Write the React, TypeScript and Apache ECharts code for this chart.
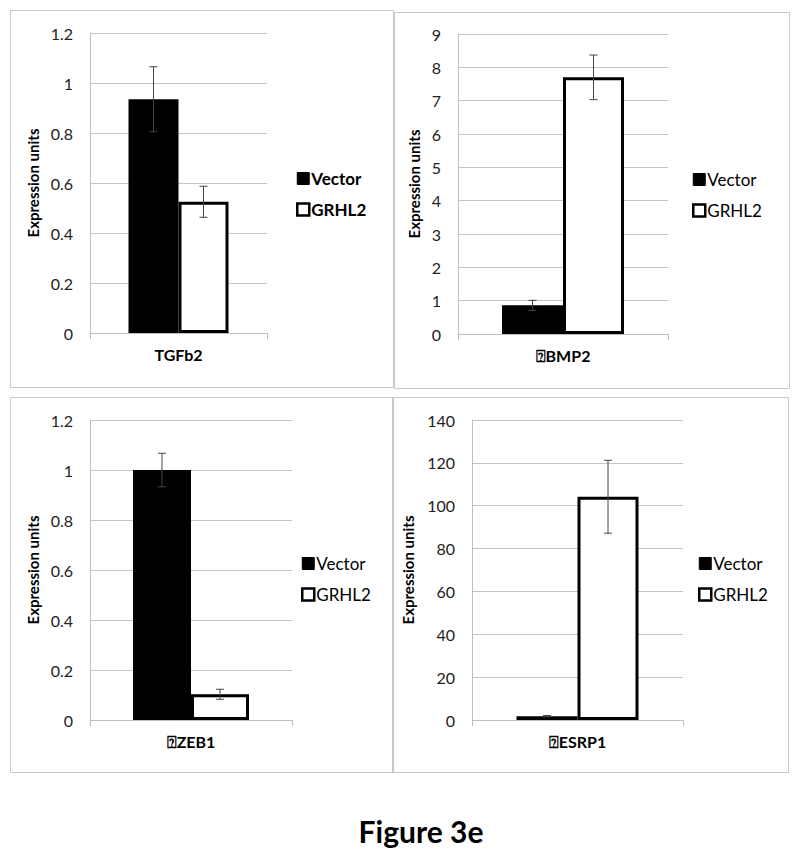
import React, { useEffect, useRef } from "react";
import * as echarts from "echarts";

const categories = ["TGFb2", "⍰BMP2", "⍰ZEB1", "⍰ESRP1"];
const seriesNames = ["Vector", "GRHL2"];
const vectorValues = [0.935, 0.86, 1.0, 1.8];
const vectorErrors = [0.13, 0.15, 0.067, 0.3];
const grhl2Values = [0.525, 7.7, 0.103, 104.2];
const grhl2Errors = [0.062, 0.67, 0.02, 17];
const axisMax = [1.2, 9, 1.2, 140];
const axisInterval = [0.2, 1, 0.2, 20];
const yAxisTitle = "Expression units";
const figureTitle = "Figure 3e";

const FONT = "Lato, 'Open Sans', sans-serif";

// layout per panel (styles / positions)
const grids = [
  { left: 90, top: 33, width: 177, height: 300 },
  { left: 458, top: 34, width: 210, height: 300 },
  { left: 90, top: 420, width: 202, height: 300 },
  { left: 472, top: 420, width: 211, height: 300 },
];
const barWidths = [50, 61, 58, 61];
const nameGaps = [50, 37, 50, 57];
const legendPos = [
  { left: 296, top: 170, bold: true },
  { left: 692, top: 171, bold: false },
  { left: 301, top: 555, bold: false },
  { left: 698, top: 555, bold: false },
];
const borders = [
  { x: 10, y: 10, w: 383, h: 377 },
  { x: 394, y: 12, w: 395, h: 376 },
  { x: 10, y: 397, w: 383, h: 375 },
  { x: 392, y: 397, w: 396, h: 375 },
];

export default function App() {
  const ref = useRef<HTMLDivElement>(null);
  useEffect(() => {
    if (!ref.current) return;
    const chart = echarts.init(ref.current, undefined, { renderer: "svg" });

    const gridOpt: any[] = [];
    const xAxes: any[] = [];
    const yAxes: any[] = [];
    const series: any[] = [];
    const legends: any[] = [];

    categories.forEach((cat, i) => {
      gridOpt.push({ ...grids[i], containLabel: false });
      xAxes.push({
        type: "category",
        gridIndex: i,
        data: [cat],
        boundaryGap: true,
        axisLine: { show: true, lineStyle: { color: "#bfbfbf", width: 1 } },
        axisTick: { show: true, length: 6, interval: 0, lineStyle: { color: "#bfbfbf" } },
        axisLabel: {
          fontFamily: FONT,
          fontSize: 16,
          fontWeight: "bold",
          color: "#000",
          margin: 13,
        },
      });
      yAxes.push({
        type: "value",
        gridIndex: i,
        min: 0,
        max: axisMax[i],
        interval: axisInterval[i],
        name: yAxisTitle,
        nameLocation: "middle",
        nameGap: nameGaps[i],
        nameTextStyle: { fontFamily: FONT, fontSize: 15, fontWeight: "bold", color: "#000" },
        axisLine: { show: true, lineStyle: { color: "#bfbfbf", width: 1 } },
        axisTick: { show: false },
        splitLine: { show: true, lineStyle: { color: "#c4c4c4", width: 1 } },
        axisLabel: { fontFamily: FONT, fontSize: 16, color: "#222", margin: 17 },
      });
      const bw = barWidths[i];
      series.push({
        type: "bar",
        name: seriesNames[0],
        xAxisIndex: i,
        yAxisIndex: i,
        data: [vectorValues[i]],
        barWidth: bw,
        barGap: "0%",
        itemStyle: { color: "#000", borderColor: "#000", borderWidth: 3 },
        z: 2,
      });
      series.push({
        type: "bar",
        name: seriesNames[1],
        xAxisIndex: i,
        yAxisIndex: i,
        data: [grhl2Values[i]],
        barWidth: bw,
        barGap: "0%",
        itemStyle: { color: "#fff", borderColor: "#000", borderWidth: 3 },
        z: 2,
      });
      series.push({
        type: "custom",
        name: "err" + i,
        xAxisIndex: i,
        yAxisIndex: i,
        z: 5,
        data: [
          [0, vectorValues[i], vectorErrors[i], -1],
          [0, grhl2Values[i], grhl2Errors[i], 1],
        ],
        encode: { x: 0, y: 1 },
        renderItem: (params: any, api: any) => {
          const x = api.value(0);
          const v = api.value(1);
          const e = api.value(2);
          const side = api.value(3);
          const top = api.coord([x, v + e]);
          const bot = api.coord([x, Math.max(0, v - e)]);
          const cx = top[0] + (side * bw) / 2;
          const cap = 4;
          const style = { stroke: "#444", lineWidth: 1 };
          return {
            type: "group",
            children: [
              { type: "line", shape: { x1: cx, y1: top[1], x2: cx, y2: bot[1] }, style },
              { type: "line", shape: { x1: cx - cap, y1: top[1], x2: cx + cap, y2: top[1] }, style },
              { type: "line", shape: { x1: cx - cap, y1: bot[1], x2: cx + cap, y2: bot[1] }, style },
            ],
          };
        },
      });
      const lp = legendPos[i];
      legends.push({
        left: lp.left,
        top: lp.top,
        padding: 0,
        orient: "vertical",
        itemWidth: 12,
        itemHeight: 12,
        itemGap: 14,
        selectedMode: false,
        textStyle: {
          fontFamily: FONT,
          fontSize: 17,
          fontWeight: lp.bold ? "bold" : "normal",
          color: "#000",
          padding: [0, 0, 0, -3],
        },
        data: [
          { name: seriesNames[0], icon: "rect", itemStyle: { color: "#000", borderColor: "#000", borderWidth: 1 } },
          { name: seriesNames[1], icon: "rect", itemStyle: { color: "#fff", borderColor: "#000", borderWidth: 2.5 } },
        ],
      });
    });

    const graphics: any[] = borders.map((b) => ({
      type: "rect",
      shape: { x: b.x + 0.5, y: b.y + 0.5, width: b.w, height: b.h },
      style: { fill: "none", stroke: "#c8c8c8", lineWidth: 1 },
      z: -1,
      silent: true,
    }));
    graphics.push({
      type: "text",
      x: 421,
      y: 831,
      style: {
        text: figureTitle,
        fontFamily: FONT,
        fontSize: 30,
        fontWeight: "bold",
        fill: "#000",
        align: "center",
        verticalAlign: "middle",
      },
    });

    chart.setOption({
      animation: false,
      backgroundColor: "#fff",
      grid: gridOpt,
      xAxis: xAxes,
      yAxis: yAxes,
      legend: legends,
      series,
      graphic: graphics,
    });
    return () => chart.dispose();
  }, []);
  return (
    <div
      ref={ref}
      style={{ position: "absolute", left: 0, top: 0, width: 800, height: 859, background: "#fff" }}
    />
  );
}
